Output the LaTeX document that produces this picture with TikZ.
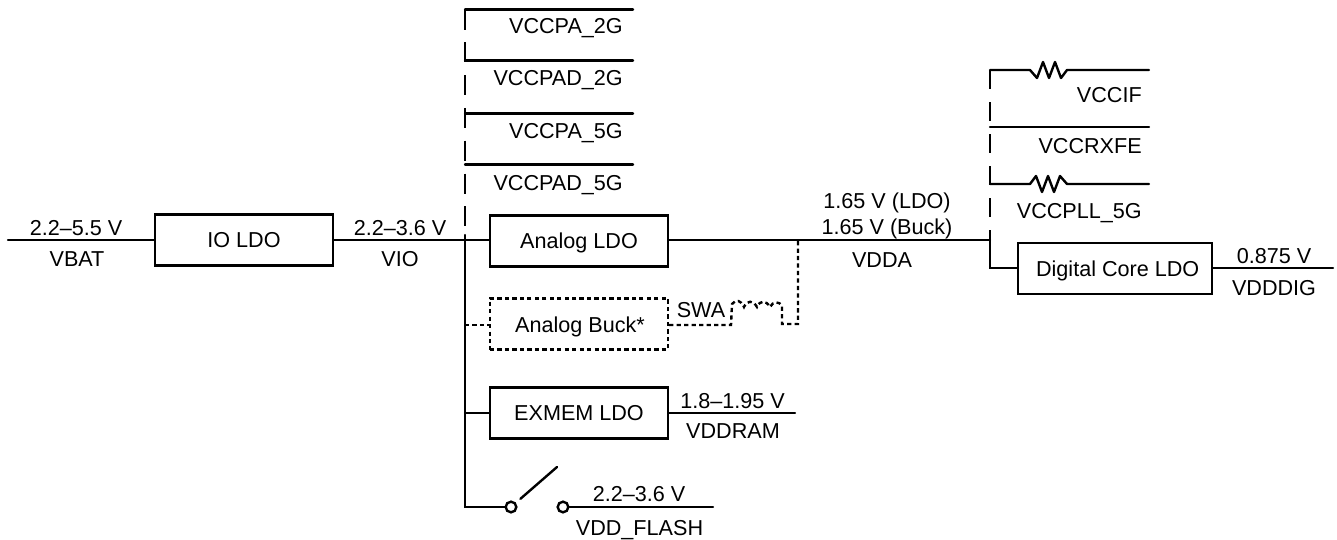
\documentclass[tikz,border=0pt]{standalone}
\usepackage{fontspec}
\setmainfont{Liberation Sans}
\begin{document}
\begin{tikzpicture}[x=0.75pt,y=-0.75pt,
  wire/.style={line width=1.8pt,line cap=round,line join=miter},
  busdash/.style={line width=1.8pt,dash pattern=on 15pt off 9.6pt},
  dotwire/.style={line width=1.8pt,dash pattern=on 3.2pt off 2.4pt},
  block/.style={draw,line width=1.8pt,minimum width=133.5pt,minimum height=38.5pt,inner sep=0pt,text height=11.6pt,text depth=0pt,font=\fontsize{16.2}{18}\selectfont},
  lbl/.style={inner sep=0pt,font=\fontsize{16.2}{18}\selectfont,anchor=base},
  sw/.style={circle,draw,line width=1.8pt,minimum size=8pt,inner sep=0pt,fill=white}]
\useasboundingbox (0,0) rectangle (1337,539);
% blocks
\node[block] (io) at (244,240) {IO LDO};
\node[block] (analog) at (579,241) {Analog LDO};
\node[block,dotwire] (buck) at (579,324) {};
\node[lbl] (bucktxt) at (580,332) {Analog Buck*};
\node[block] (exmem) at (579,413) {EXMEM LDO};
\node[block,minimum width=145.5pt] (core) at (1115,268.5) {\hspace*{4pt}Digital Core LDO};
% free ends
\coordinate (vbatL) at (8,240);
\coordinate (busIO) at (465,240);
\coordinate (busT) at (465,9.5);
\coordinate (busS) at (465,235);
\coordinate (busB) at (465,507);
\coordinate (r1) at (633,9.5);
\coordinate (r2L) at (465,60.5);
\coordinate (r2) at (633,60.5);
\coordinate (r3L) at (465,113.5);
\coordinate (r3) at (633,113.5);
\coordinate (r4L) at (465,164.5);
\coordinate (r4) at (633,164.5);
\coordinate (busBuck) at (465,325);
\coordinate (busEx) at (465,413);
\coordinate (ddaJ) at (798,240);
\coordinate (dbus) at (990,240);
\coordinate (dbusT) at (990,70);
\coordinate (dbusS) at (990,232);
\coordinate (dbusB) at (990,268);
\coordinate (c1a) at (1030,70);
\coordinate (c1b) at (1067,70);
\coordinate (c1) at (1149,70);
\coordinate (c2L) at (990,127);
\coordinate (c2) at (1149,127);
\coordinate (c3L) at (990,184);
\coordinate (c3a) at (1030,184);
\coordinate (c3b) at (1067,184);
\coordinate (c3) at (1149,184);
\coordinate (coreOut) at (1333,268);
\coordinate (exOut) at (795,413);
\coordinate (flashOut) at (713,507);
\coordinate (armEnd) at (557,467);
% switch
\node[sw] (swa) at (511,507) {};
\node[sw] (swb) at (563,507) {};
% wires
\draw[wire] (vbatL) -- (io.west |- vbatL);
\draw[wire] (io.east |- busIO) -- (busIO) -- (analog.west |- busIO);
\draw[wire] (analog.east |- dbus) -- (dbus);
\draw[wire] (r1) -- (busT);
\draw[wire] (r2L) -- (r2);
\draw[wire] (r3L) -- (r3);
\draw[wire] (r4L) -- (r4);
\draw[busdash] (busT) -- (busS);
\draw[wire] (busS) -- (busB) -- (swa);
\draw[wire] (busEx) -- (exmem.west |- busEx);
\draw[wire] (exmem.east |- exOut) -- (exOut);
\draw[wire] (swb) -- (flashOut);
\draw[wire,shorten <=4.4pt] (swa) -- (armEnd);
\draw[dotwire] (busBuck) -- (buck.west |- busBuck);
\draw[dotwire] (buck.east |- busBuck) -- (731,325) -- (732,304)
  .. controls (736,299) and (741,300) .. (744,307)
  .. controls (747,300) and (753,300) .. (757,307)
  .. controls (760,300) and (766,300) .. (770,307)
  .. controls (773,301) and (779,301) .. (782,306)
  -- (782,324) -- (798,324) -- (ddaJ);
\draw[busdash,dash pattern=on 14.5pt off 9.5pt] (dbusT) -- (dbusS);
\draw[wire] (dbusS) -- (dbusB) -- (core.west |- dbusB);
\draw[wire] (core.east |- coreOut) -- (coreOut);
\draw[wire,line join=round] (c1) -- (c1b) -- ++(-6,8) -- ++(-6,-16) -- ++(-6,16) -- ++(-6,-16) -- ++(-6,16) -- (c1a) -- (dbusT);
\draw[wire] (c2L) -- (c2);
\draw[wire,line join=round] (c3L) -- (c3a) -- ++(6,-8) -- ++(6,16) -- ++(6,-16) -- ++(6,16) -- ++(6,-16) -- (c3b) -- (c3);
% labels
\node[lbl] (t1) at (76,235) {2.2–5.5 V};
\node[lbl] (t2) at (77,266) {VBAT};
\node[lbl] (t3) at (400,235) {2.2–3.6 V};
\node[lbl] (t4) at (400,266) {VIO};
\node[lbl,anchor=base east] (t5) at (623,33) {VCCPA\_2G};
\node[lbl,anchor=base east] (t6) at (623,85) {VCCPAD\_2G};
\node[lbl,anchor=base east] (t7) at (623,138) {VCCPA\_5G};
\node[lbl,anchor=base east] (t8) at (623,190) {VCCPAD\_5G};
\node[lbl] (t9) at (887,208) {1.65 V (LDO)};
\node[lbl] (t10) at (887,234) {1.65 V (Buck)};
\node[lbl] (t11) at (882,267) {VDDA};
\node[lbl] (t12) at (701,317) {SWA};
\node[lbl] (t13) at (732.5,408) {1.8–1.95 V};
\node[lbl] (t14) at (733,438) {VDDRAM};
\node[lbl] (t15) at (639,501) {2.2–3.6 V};
\node[lbl] (t16) at (639.5,535) {VDD\_FLASH};
\node[lbl,anchor=base east] (t17) at (1142,102) {VCCIF};
\node[lbl,anchor=base east] (t18) at (1142,153) {VCCRXFE};
\node[lbl,anchor=base east] (t19) at (1142,218) {VCCPLL\_5G};
\node[lbl] (t20) at (1274,263) {0.875 V};
\node[lbl] (t21) at (1274,295) {VDDDIG};
\end{tikzpicture}
\end{document}
